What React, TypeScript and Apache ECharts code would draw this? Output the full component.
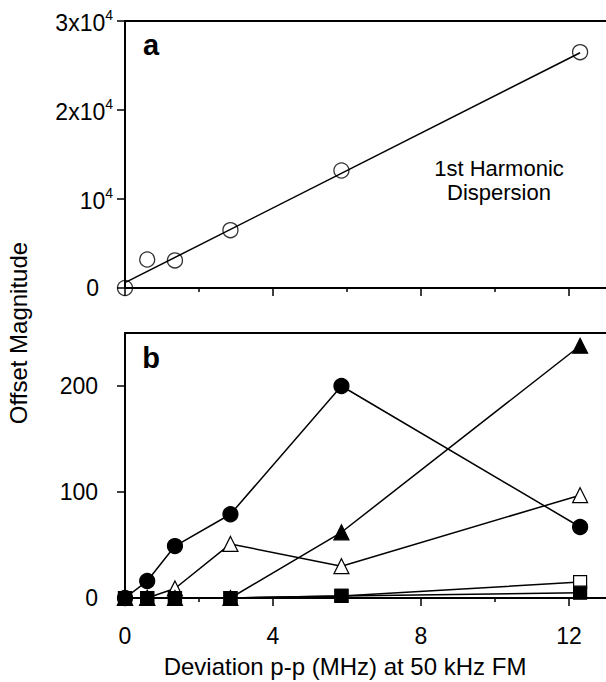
import React, { useEffect, useRef } from "react";
import * as echarts from "echarts";

// Panel a: 1st harmonic dispersion
const deviationA = [0, 0.6, 1.35, 2.85, 5.85, 12.3];
const dispersionA = [0, 3200, 3100, 6500, 13200, 26500];
const fitX = [0, 12.3];
const fitY = [600, 26430];

// Panel b
const deviationB = [0, 0.6, 1.35, 2.85, 5.85, 12.3];
const filledCircles = [0, 16, 49, 79, 200, 67];
const openTriangles = [0, 0, 9, 51, 30, 97];
const filledTriangles = [0, 0, 0, 0, 62, 238];
const openSquares = [0, 0, 0, 0, 2, 15];
const filledSquares = [0, 0, 0, 0, 2, 5];

const xMajorTicks = [0, 4, 8, 12];
const xMinorTicks = [2, 6, 10];
const yTicksB = [0, 100, 200];

const FONT = "'Liberation Sans', Arial, sans-serif";

const zip = (xs: number[], ys: number[]) => xs.map((x, i) => [x, ys[i]]);

export default function App() {
  const ref = useRef<HTMLDivElement>(null);
  useEffect(() => {
    if (!ref.current) return;
    const chart = echarts.init(ref.current, null, { renderer: "svg" });
    const gA = { left: 125, top: 21, width: 481, height: 267 };
    const gB = { left: 125, top: 333, width: 481, height: 265 };
    const black = "#000";
    const mainX = (gridIndex: number, showLabel: boolean) => ({
      type: "value",
      gridIndex,
      position: "bottom",
      min: 0,
      max: 13,
      interval: 4,
      axisLine: { show: true, onZero: false, lineStyle: { color: black, width: 2 } },
      axisTick: { show: true, inside: false, length: 8, customValues: xMajorTicks, lineStyle: { color: black, width: 1.5 } },
      axisLabel: {
        show: showLabel,
        customValues: xMajorTicks,
        margin: 26,
        fontSize: 23,
        fontFamily: FONT,
        color: black,
      },
      splitLine: { show: false },
    });
    const topX = (gridIndex: number) => ({
      type: "value",
      gridIndex,
      position: "top",
      min: 0,
      max: 13,
      axisLine: { show: true, onZero: false, lineStyle: { color: black, width: 2 } },
      axisTick: { show: false },
      axisLabel: { show: false },
      splitLine: { show: false },
    });
    const minorX = (gridIndex: number) => ({
      type: "value",
      gridIndex,
      position: "bottom",
      min: 0,
      max: 13,
      axisLine: { show: false, onZero: false },
      axisTick: { show: true, inside: false, length: 4, customValues: xMinorTicks, lineStyle: { color: black, width: 1.5 } },
      axisLabel: { show: false },
      splitLine: { show: false },
    });
    const rightY = (gridIndex: number) => ({
      type: "value",
      gridIndex,
      position: "right",
      min: 0,
      max: 1,
      axisLine: { show: true, onZero: false, lineStyle: { color: "#d0d0d0", width: 1 } },
      axisTick: { show: false },
      axisLabel: { show: false },
      splitLine: { show: false },
    });
    const hiddenY = (gridIndex: number) => ({
      type: "value",
      gridIndex,
      show: false,
      min: 0,
      max: 1,
      splitLine: { show: false },
    });
    const lineSeries = (name: string, ys: number[], symbol: string, size: number, filled: boolean) => ({
      name,
      type: "line",
      xAxisIndex: 2,
      yAxisIndex: 2,
      data: zip(deviationB, ys),
      symbol,
      symbolSize: size,
      showSymbol: true,
      clip: false,
      lineStyle: { color: black, width: 1.5 },
      itemStyle: { color: filled ? black : "#fff", borderColor: black, borderWidth: 1.2 },
      z: 3,
    });

    chart.setOption({
      animation: false,
      backgroundColor: "#fff",
      grid: [
        { ...gA, containLabel: false },
        { ...gB, containLabel: false },
        { ...gA, containLabel: false },
        { ...gB, containLabel: false },
      ],
      xAxis: [mainX(0, false), topX(0), mainX(1, true), topX(1), minorX(2), minorX(3)],
      yAxis: [
        {
          type: "value",
          gridIndex: 0,
          position: "left",
          min: 0,
          max: 30000,
          interval: 10000,
          axisLine: { show: true, onZero: false, lineStyle: { color: black, width: 2 } },
          axisTick: { show: true, inside: false, length: 8, lineStyle: { color: black, width: 1.5 } },
          axisLabel: {
            margin: 12,
            formatter: (v: number) =>
              v === 0 ? "{z|0}" : v === 10000 ? "{n|10}{s|4}" : `{n|${v / 10000}x10}{s|4}`,
            rich: {
              z: { fontSize: 23, fontFamily: FONT, color: black, lineHeight: 26, padding: [0, 14, 0, 0] },
              n: { fontSize: 23, fontFamily: FONT, color: black, lineHeight: 26, verticalAlign: "bottom" },
              s: { fontSize: 14, fontFamily: FONT, color: black, lineHeight: 14, verticalAlign: "top" },
            },
          },
          splitLine: { show: false },
        },
        rightY(0),
        {
          type: "value",
          gridIndex: 1,
          position: "left",
          min: 0,
          max: 250,
          interval: 100,
          axisLine: { show: true, onZero: false, lineStyle: { color: black, width: 2 } },
          axisTick: { show: true, inside: false, length: 8, customValues: yTicksB, lineStyle: { color: black, width: 1.5 } },
          axisLabel: { customValues: yTicksB, margin: 27, fontSize: 23, fontFamily: FONT, color: black },
          splitLine: { show: false },
        },
        rightY(1),
        hiddenY(2),
        hiddenY(3),
      ],
      series: [
        {
          name: "fit",
          type: "line",
          xAxisIndex: 0,
          yAxisIndex: 0,
          data: zip(fitX, fitY),
          symbol: "none",
          clip: false,
          lineStyle: { color: black, width: 1.5 },
          z: 2,
        },
        {
          name: "1st Harmonic Dispersion",
          type: "scatter",
          xAxisIndex: 0,
          yAxisIndex: 0,
          data: zip(deviationA, dispersionA),
          symbol: "circle",
          symbolSize: 15,
          clip: false,
          itemStyle: { color: "rgba(255,255,255,0)", borderColor: black, borderWidth: 1.3 },
          z: 3,
        },
        lineSeries("filled circles", filledCircles, "circle", 15, true),
        lineSeries("open triangles", openTriangles, "triangle", 15, false),
        lineSeries("filled triangles", filledTriangles, "triangle", 15, true),
        lineSeries("open squares", openSquares, "rect", 13, false),
        lineSeries("filled squares", filledSquares, "rect", 13, true),
      ],
      graphic: [
        {
          type: "text",
          x: 18,
          y: 333,
          rotation: Math.PI / 2,
          style: { text: "Offset Magnitude", font: `24px ${FONT}`, fill: black, textAlign: "center", textVerticalAlign: "middle" },
        },
        {
          type: "text",
          x: 345,
          y: 666,
          style: { text: "Deviation p-p (MHz) at 50 kHz FM", font: `24px ${FONT}`, fill: black, textAlign: "center", textVerticalAlign: "middle" },
        },
        {
          type: "text",
          x: 151,
          y: 45,
          style: { text: "a", font: `bold 29px ${FONT}`, fill: black, textAlign: "center", textVerticalAlign: "middle" },
        },
        {
          type: "text",
          x: 151,
          y: 358,
          style: { text: "b", font: `bold 29px ${FONT}`, fill: black, textAlign: "center", textVerticalAlign: "middle" },
        },
        {
          type: "text",
          x: 499,
          y: 168,
          style: { text: "1st Harmonic", font: `22px ${FONT}`, fill: black, textAlign: "center", textVerticalAlign: "middle" },
        },
        {
          type: "text",
          x: 499,
          y: 192,
          style: { text: "Dispersion", font: `22px ${FONT}`, fill: black, textAlign: "center", textVerticalAlign: "middle" },
        },
      ],
    });
    return () => chart.dispose();
  }, []);
  return (
    <div
      ref={ref}
      style={{ position: "absolute", left: 0, top: 0, width: 606, height: 682, background: "#fff" }}
    />
  );
}
